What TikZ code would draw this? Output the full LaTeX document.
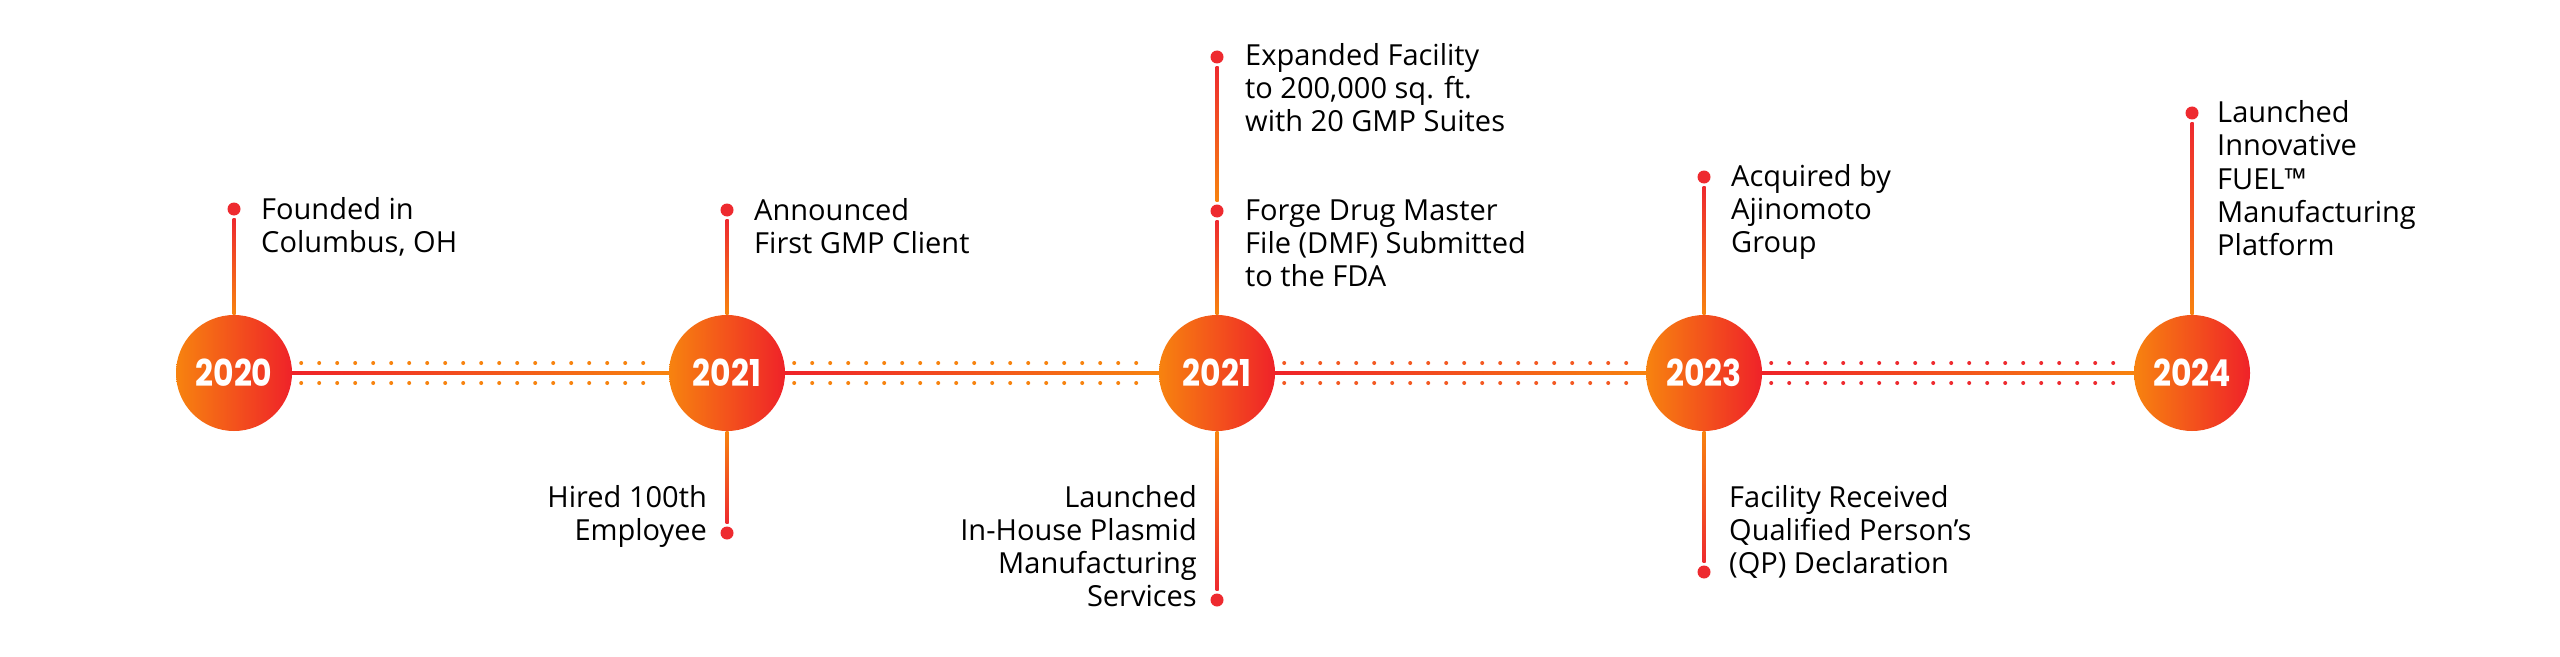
\documentclass[tikz,border=0pt]{standalone}
\usepackage{fontspec}
\setmainfont{Open Sans}
\newfontfamily\yearfont{Poppins}
\usetikzlibrary{calc}
\definecolor{tlorange}{HTML}{F7830F}
\definecolor{tlred}{HTML}{EF2229}
\definecolor{dotred}{HTML}{EE2A2F}
\definecolor{tlmid}{HTML}{F35A22}
\tikzset{
  year/.style={circle, minimum size=116bp, inner sep=0pt, left color=tlorange, right color=tlred,
    text=white, font=\yearfont\bfseries\fontsize{37bp}{37bp}\selectfont},
  evdot/.style={circle, fill=dotred, minimum size=13bp, inner sep=0pt},
  evtxt/.style={inner sep=0pt, align=left, font=\fontsize{29bp}{33bp}\selectfont},
  evtxtr/.style={evtxt, align=right},
  dotrow/.style={line width=4bp, line cap=round, dash pattern=on 0bp off 18bp}
}
\begin{document}
\begin{tikzpicture}[x=1bp, y=-1bp]
        \useasboundingbox[fill=white] (0,0) rectangle (2560,657);
        \node[year] (y20) at (234,373) {\scalebox{0.85}[1]{2020}};
        \node[year] (y21a) at (727,373) {\scalebox{0.85}[1]{2021}};
        \node[year] (y21b) at (1217,373) {\scalebox{0.85}[1]{2021}};
        \node[year] (y23) at (1704,373) {\scalebox{0.85}[1]{2023}};
        \node[year] (y24) at (2192,373) {\scalebox{0.85}[1]{2024}};

        % timeline between the years
        \shade[left color=tlred, right color=tlorange] ($(y20.east)+(0,-1.5)$) rectangle ($(y21a.west)+(0,1.5)$);
        \shade[left color=tlred, right color=tlorange] ($(y21a.east)+(0,-1.5)$) rectangle ($(y21b.west)+(0,1.5)$);
        \shade[left color=tlred, right color=tlorange] ($(y21b.east)+(0,-1.5)$) rectangle ($(y23.west)+(0,1.5)$);
        \shade[left color=tlred, right color=tlorange] ($(y23.east)+(0,-1.5)$) rectangle ($(y24.west)+(0,1.5)$);
        \draw[dotrow, tlorange] ($(y20.east)+(9,-10)$) -- ($(y21a.west)+(-9,-10)$);
        \draw[dotrow, tlorange] ($(y20.east)+(9,10)$) -- ($(y21a.west)+(-9,10)$);
        \draw[dotrow, tlorange] ($(y21a.east)+(9,-10)$) -- ($(y21b.west)+(-9,-10)$);
        \draw[dotrow, tlorange] ($(y21a.east)+(9,10)$) -- ($(y21b.west)+(-9,10)$);
        \draw[dotrow, tlmid] ($(y21b.east)+(9,-10)$) -- ($(y23.west)+(-9,-10)$);
        \draw[dotrow, tlmid] ($(y21b.east)+(9,10)$) -- ($(y23.west)+(-9,10)$);
        \draw[dotrow, dotred] ($(y23.east)+(9,-10)$) -- ($(y24.west)+(-9,-10)$);
        \draw[dotrow, dotred] ($(y23.east)+(9,10)$) -- ($(y24.west)+(-9,10)$);

        % events above (anchored at the last baseline)
        \node[evdot] (d1) at (234,209) {};
        \node[evdot] (d2) at (727,210) {};
        \node[evdot] (d3a) at (1217,57) {};
        \node[evdot] (d3b) at (1217,211) {};
        \node[evdot] (d4) at (1704,177) {};
        \node[evdot] (d5) at (2192,113) {};
        \node[evtxt, anchor=base west] (t1) at (261,252) {Founded in\\Columbus, OH};
        \node[evtxt, anchor=base west] (t2) at (754,253) {Announced\\First GMP Client};
        \node[evtxt, anchor=base west] (t3a) at (1245,132) {Expanded Facility\\to 200,000 sq. ft.\\with 20 GMP Suites};
        \node[evtxt, anchor=base west] (t3b) at (1245,286) {Forge Drug Master\\File (DMF) Submitted\\to the FDA};
        \node[evtxt, anchor=base west] (t4) at (1731,252) {Acquired by\\Ajinomoto\\Group};
        \node[evtxt, anchor=base west] (t5) at (2217,255) {Launched\\Innovative\\FUEL™\\Manufacturing\\Platform};
        \shade[top color=dotred, bottom color=tlorange] ($(d1.south)+(-1.5,3)$) rectangle ($(y20.north)+(1.5,0)$);
        \shade[top color=dotred, bottom color=tlorange] ($(d2.south)+(-1.5,3)$) rectangle ($(y21a.north)+(1.5,0)$);
        \shade[top color=dotred, bottom color=tlorange] ($(d3b.south)+(-1.5,3)$) rectangle ($(y21b.north)+(1.5,0)$);
        \shade[top color=dotred, bottom color=tlorange] ($(d3a.south)+(-1.5,3)$) rectangle ($(d3b.north)+(1.5,-3)$);
        \shade[top color=dotred, bottom color=tlorange] ($(d4.south)+(-1.5,3)$) rectangle ($(y23.north)+(1.5,0)$);
        \shade[top color=dotred, bottom color=tlorange] ($(d5.south)+(-1.5,3)$) rectangle ($(y24.north)+(1.5,0)$);

        % events below
        \node[evdot] (b2) at (727,533) {};
        \node[evdot] (b3) at (1217,600) {};
        \node[evdot] (b4) at (1704,572) {};
        \node[evtxtr, anchor=base east] (s2) at (707,540) {Hired 100th\\Employee};
        \node[evtxtr, anchor=base east] (s3) at (1197,606) {Launched\\In-House Plasmid\\Manufacturing\\Services};
        \node[evtxt, anchor=base west] (s4) at (1729,573) {Facility Received\\Qualified Person’s\\(QP) Declaration};
        \shade[top color=tlorange, bottom color=dotred] ($(y21a.south)+(-1.5,0)$) rectangle ($(b2.north)+(1.5,-3)$);
        \shade[top color=tlorange, bottom color=dotred] ($(y21b.south)+(-1.5,0)$) rectangle ($(b3.north)+(1.5,-3)$);
        \shade[top color=tlorange, bottom color=dotred] ($(y23.south)+(-1.5,0)$) rectangle ($(b4.north)+(1.5,-3)$);
\end{tikzpicture}
\end{document}
